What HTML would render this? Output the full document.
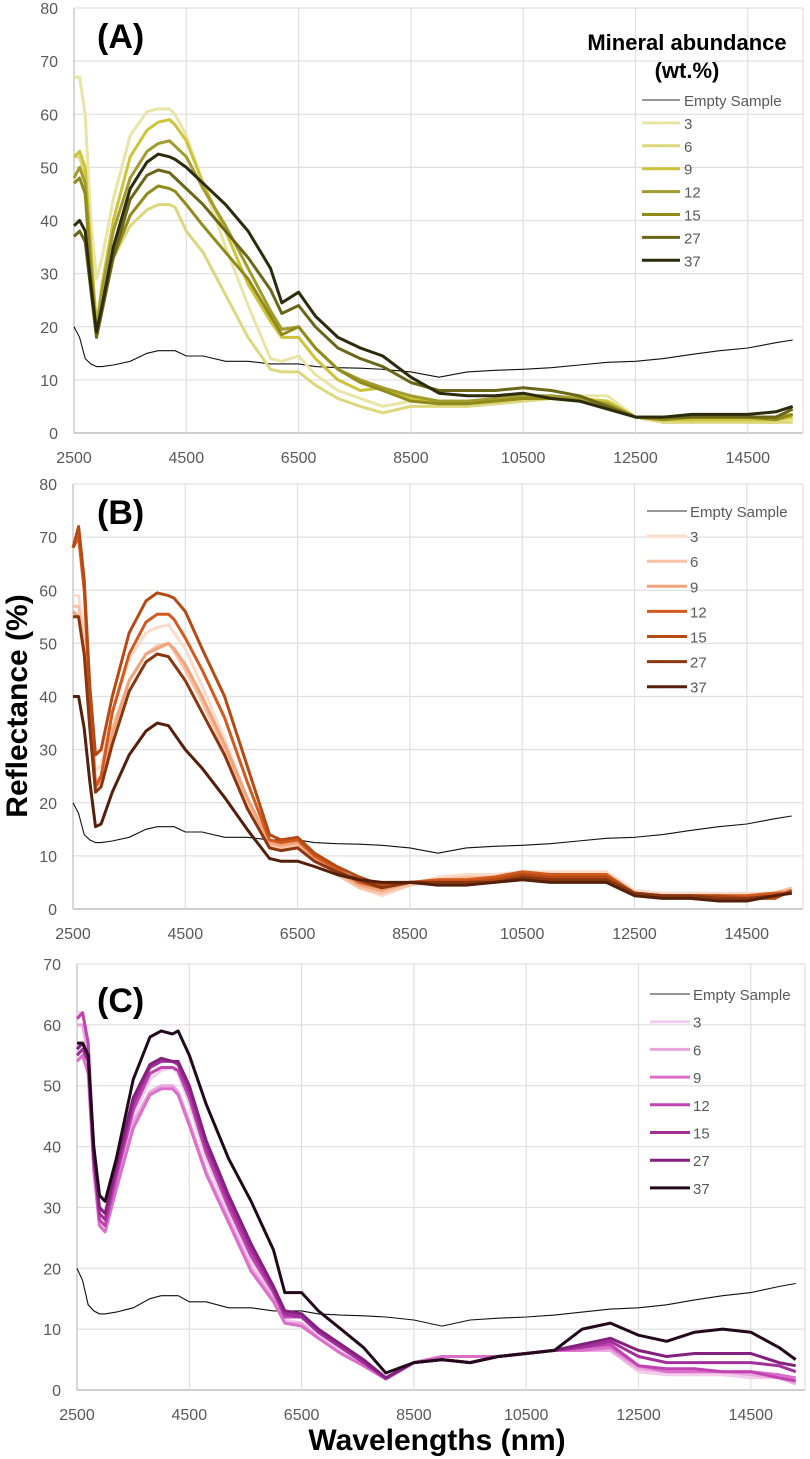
<!DOCTYPE html>
<html><head><meta charset="utf-8"><style>
html,body{margin:0;padding:0;background:#fff;}
svg{display:block;font-family:"Liberation Sans",sans-serif;}
</style></head><body>
<svg id="chart" width="810" height="1459" viewBox="0 0 810 1459"></svg>
<script>
const W=[2500,2600,2700,2800,2900,3000,3200,3500,3800,4000,4200,4300,4500,4800,5200,5600,6000,6200,6500,6800,7200,7600,8000,8500,9000,9500,10000,10500,11000,11500,12000,12500,13000,13500,14000,14500,15000,15300];
const xTicks=[2500,4500,6500,8500,10500,12500,14500];
const legendLabels=["3","6","9","12","15","27","37"];
const emptySample=[20,18,14,13,12.5,12.5,12.8,13.5,15,15.5,15.5,15.5,14.5,14.5,13.5,13.5,13,13,13,12.5,12.3,12.2,12,11.5,10.5,11.5,11.8,12,12.3,12.8,13.3,13.5,14,14.8,15.5,16,17,17.5];
// Panel A
const A3=[67,67,60,40,29,33,44,56,60.5,61,61,60,56,47,35,24,14,13.5,14.5,11,8,6.5,5,6,5.5,5,5.5,6,6.5,7,7,3,2.5,2.5,2.5,2,2,2.5];
const A6=[52,52,48,33,21,25,33,39,42,43,43,42.5,38,34,26,18,12,11.5,11.5,9,6.5,5,3.8,5,5,5,5.5,6,6.5,6.5,6,3,2,2,2,2,2,2];
const A9=[52,53,50,35,20,28,40,52,57,58.5,59,58,55,47,38,28,21,18,18,14,10,8,8.5,6.5,6,6,6,6.5,6.5,6.5,6,3,2.5,2.5,2.5,2.5,2.5,3];
const A12=[48,50,47,32,19,27,38,48,53,54.5,55,54,52,46,39,31,23,19.5,20,16,12,10,8.5,7,6,6,6.5,7,7,6.5,5.5,3,3,3,3,3,3,3.5];
const A15=[47,48,45,30,18.5,24,33,41,45,46.5,46,45.5,43,39,34,29,22,18.5,20,16,12,9.5,8,6,5.5,5.5,6,6.5,6.5,6,5,3,2.5,3,3,3,2.5,3.5];
const A27=[37,38,36,27,18,23,33,44,48.5,49.5,49,48,46,43,38,33,27,22.5,24,20,16,14,12.5,9.5,8,8,8,8.5,8,7,5,3,3,3,3,3,3,4.5];
const A37=[39,40,38,28,19,24,35,46,51,52.5,52,51.5,50,47,43,38,31,24.5,26.5,22,18,16,14.5,10.5,7.5,7,7,7.5,6.5,6,4.5,3,3,3.5,3.5,3.5,4,5];
// Panel B
const B3=[59,59,52,38,26,27,37,47,52,53,53.5,52,49,42,32,21,12.5,12,12.5,9,6.5,4,2.5,4.5,6,6.5,6.5,7,7,7,7,3.5,3,3,3,3,3,4];
const B6=[57,57,50,36,24,25,34,43,48,49.5,50,48.5,45,39,30,20,12,11.5,12,9,6.5,4,3,4.5,5.5,6,6,6.5,6.5,6.5,6.5,3,2.5,2.5,2.5,2.5,3,4];
const B9=[56,55,48,35,23,24,33,43,48,49,50,49,46,40,31,21,12.5,12,12.5,9.5,7,4.5,3.5,5,5.5,5.5,6,6.5,6.5,6.5,6.5,3,2.5,2.5,2.5,2.5,3,3.5];
const B12=[68,70,60,40,23,25,37,48,54,55.5,55.5,54.5,51,45,36,24,13,12.5,13,10,7.5,5,4,5,5.5,5.5,6,7,6.5,6.5,6.5,3,2.5,2.5,2.5,2.5,3,3];
const B15=[68,72,62,42,29,30,40,52,58,59.5,59,58.5,56,49,40,27,14,13,13.5,10.5,8,6,4.5,5,5,5,5.5,6.5,6,6,6,3,2.5,2.5,2.5,2,2,3.5];
const B27=[55,55,48,34,22,23,31,41,46.5,48,47.5,46,43,37,29,19,11.5,11,11.5,9,7,5.5,4,5,5,5,5,6,5.5,5.5,5.5,3,2.5,2.5,2,2,2.5,3];
const B37=[40,40,34,24,15.5,16,22,29,33.5,35,34.5,33,30,26.5,21,15,9.5,9,9,8,6.5,5.5,5,5,4.5,4.5,5,5.5,5,5,5,2.5,2,2,1.5,1.5,2.5,3];
// Panel C
const C3=[62,62,57,38,27,27,34,45,51,52.5,53,52,47,38,29,21,15.5,11.5,11,9,6.5,4,1.8,4.5,5.5,5.5,5.5,6,6.5,6.5,6.5,3,2.5,2.5,2.5,2,2,1.5];
const C6=[60,60,55,36,27,26,33,44,49,50,50,49,44,36,28,20,15,11,11,8.5,6,4,1.8,4.5,5.5,5.5,5.5,6,6.5,6.5,6.5,3.5,3,3,3,2.5,2,1];
const C9=[54,55,52,36,27,26,33,43,48.5,49.5,49.5,48.5,43.5,35.5,27.5,19.5,14.5,11,10.5,8.5,6,4,1.8,4.5,5.5,5.5,5.5,6,6.5,6.5,7,4,3,3,3,3,2.5,2];
const C12=[61,62,57,39,28,27,35,46,52,53,53,52.5,48,39,30,22,16,12,12,9.5,7,4.5,1.8,4.5,5,4.5,5.5,6,6.5,7,7.5,4,3.5,3.5,3,3,2,1.5];
const C15=[55,56,54,38,29,28,36,47,53,54,54,53.5,49,40,31,23,16.5,12.5,12,9.5,7,4.5,2,4.5,5,4.5,5.5,6,6.5,7,8,5.5,4.5,4.5,4.5,4.5,4,3];
const C27=[56,57,55,38,30,29,37,48,53.5,54.5,54,54,50,41,32,24,17,13,12.5,10,7.5,5,2,4.5,5,4.5,5.5,6,6.5,7.5,8.5,6.5,5.5,6,6,6,4.5,4];
const C37=[57,57,55,40,32,31,38,51,58,59,58.5,59,55,47,38,31,23,16,16,13,10,7,2.8,4.5,5,4.5,5.5,6,6.5,10,11,9,8,9.5,10,9.5,7,5];

const NS='http://www.w3.org/2000/svg';
const svg=document.getElementById('chart');
function mk(tag,attrs,parent){const e=document.createElementNS(NS,tag);for(const k in attrs)e.setAttribute(k,attrs[k]);(parent||svg).appendChild(e);return e;}

const panels=[
 {id:'a',label:'(A)',L:74,R:803,T:8,B:433,ymax:80,step:10,series:[A3,A6,A9,A12,A15,A27,A37],
  colors:['#e9e5a6','#ddd77e','#cdc43a','#a29b2e','#918b1c','#6b6718','#2c2b0e'],
  leg:{x1:642,x2:680,tx:684,y0:100,dy:22.9},title:true,labY:48},
 {id:'b',label:'(B)',L:73,R:803,T:484,B:909,ymax:80,step:10,series:[B3,B6,B9,B12,B15,B27,B37],
  colors:['#fbdccb','#f8c3a5','#f1a37c','#d35a1f','#b64a14','#8a3610','#55200b'],
  leg:{x1:647,x2:687,tx:690,y0:511,dy:25.1},title:false,labY:524},
 {id:'c',label:'(C)',L:77,R:805,T:964,B:1390,ymax:70,step:10,series:[C3,C6,C9,C12,C15,C27,C37],
  colors:['#f3cdeb','#eaa6df','#db70cb','#c043b1','#a2309b','#84207d','#220a1c'],
  leg:{x1:650,x2:690,tx:693,y0:994,dy:27.7},title:false,labY:1012}
];

panels.forEach(p=>{
  const g=mk('g',{});
  
  
  const xs=v=>p.L+(v-2500)/2000*112.3;
  const ys=v=>p.B-(v/p.ymax)*(p.B-p.T);
  for(let v=0;v<=p.ymax;v+=p.step){
    const y=ys(v);
    const ln=mk('line',{x1:p.L,x2:p.R,y1:y,y2:y,stroke:v===0?'#bfbfbf':'#e0e0e0','stroke-width':v===0?1.5:1.2},g);
    
    
    const t=mk('text',{x:p.L-16,y:y+6,'text-anchor':'end','font-size':'16',fill:'#595959'},g);
    t.textContent=v;
    
    
  }
  xTicks.forEach(v=>{
    const x=xs(v);
    const ln=mk('line',{x1:x,x2:x,y1:p.T,y2:p.B,stroke:v===2500?'#bfbfbf':'#e0e0e0','stroke-width':1.2},g);
    
    
    const t=mk('text',{x:x,y:p.B+30,'text-anchor':'middle','font-size':'16',fill:'#595959'},g);
    t.textContent=v;
    
    
  });
  const rl=mk('line',{x1:p.R,x2:p.R,y1:p.T,y2:p.B,stroke:'#e0e0e0','stroke-width':1.2},g);
  
  
  const pts=arr=>arr.map((v,i)=>xs(W[i]).toFixed(1)+','+ys(v).toFixed(1)).join(' ');
  const es=mk('polyline',{points:pts(emptySample),fill:'none',stroke:'#111','stroke-width':1.1},g);
  
  
  p.series.forEach((s,i)=>{
    const pl=mk('polyline',{points:pts(s),fill:'none',stroke:p.colors[i],'stroke-width':3,'stroke-linejoin':'round'},g);
    
    
  });
  const lab=mk('text',{x:97,y:p.labY,'font-size':'34','font-weight':'bold',fill:'#000'},g);
  lab.textContent=p.label;
  
  
  const lg=mk('g',{},g);
  
  
  const names=['Empty Sample'].concat(legendLabels);
  const cols=['#595959'].concat(p.colors);
  names.forEach((n,i)=>{
    const y=p.leg.y0+i*p.leg.dy;
    const ll=mk('line',{x1:p.leg.x1,x2:p.leg.x2,y1:y,y2:y,stroke:cols[i],'stroke-width':i===0?1.2:3},lg);
    
    
    const t=mk('text',{x:p.leg.tx,y:y+6,'font-size':'15',fill:'#595959'},lg);
    t.textContent=n;
    
    
  });
  if(p.title){
    const t1=mk('text',{x:687,y:50,'text-anchor':'middle','font-size':'22','font-weight':'bold',fill:'#000'},g);
    t1.textContent='Mineral abundance';
    
    
    const t2=mk('text',{x:687,y:78,'text-anchor':'middle','font-size':'22','font-weight':'bold',fill:'#000'},g);
    t2.textContent='(wt.%)';
    
    
  }
});
const yt=mk('text',{x:0,y:0,'text-anchor':'middle','font-size':'30','font-weight':'bold',fill:'#000',transform:'translate(27,706) rotate(-90)'});
yt.textContent='Reflectance (%)';


const xt=mk('text',{x:437,y:1450,'text-anchor':'middle','font-size':'30','font-weight':'bold',fill:'#000'});
xt.textContent='Wavelengths (nm)';


</script>
</body></html>
